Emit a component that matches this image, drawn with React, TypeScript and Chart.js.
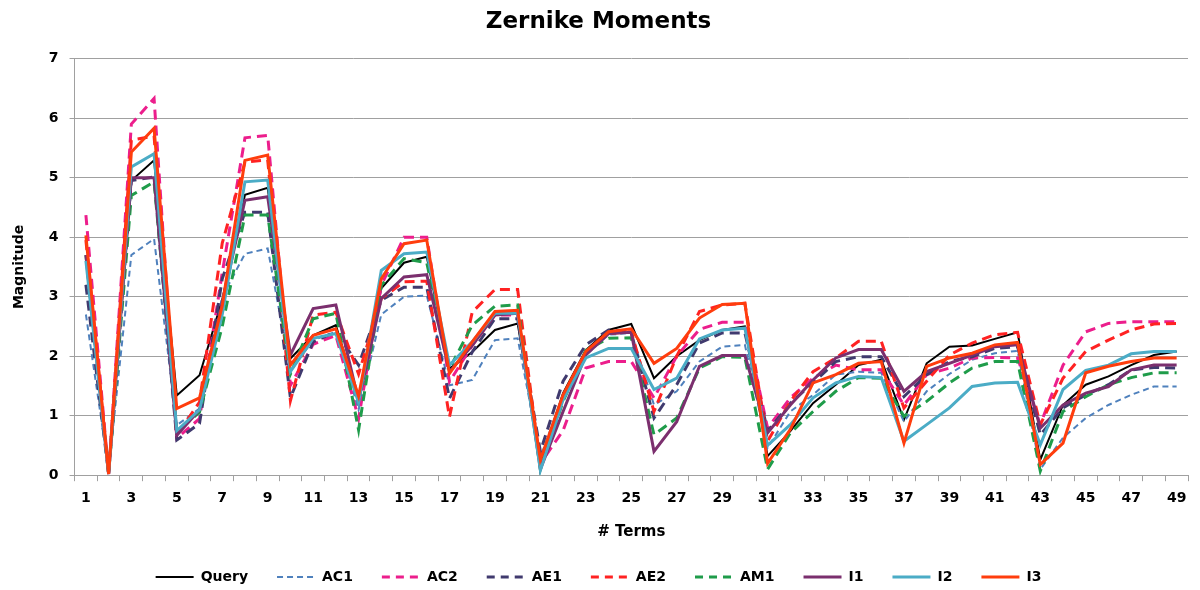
import React, { useEffect, useRef } from "react";
import { Chart, registerables } from "chart.js";

Chart.register(...registerables);

const terms: string[] = Array.from({ length: 49 }, (_, i) => String(i + 1));

const query = [3.7, 0.02, 4.95, 5.29, 1.34, 1.68, 2.95, 4.71, 4.83, 1.96, 2.35, 2.52, 1.25, 3.14, 3.57, 3.67, 1.79, 2.07, 2.44, 2.55, 0.23, 1.38, 2.1, 2.44, 2.54, 1.63, 2.0, 2.27, 2.44, 2.5, 0.32, 0.74, 1.21, 1.52, 1.85, 1.94, 0.93, 1.88, 2.16, 2.18, 2.29, 2.4, 0.26, 1.18, 1.52, 1.66, 1.85, 2.02, 2.08];
const ac1 = [2.7, 0.1, 3.7, 3.97, 0.84, 1.12, 3.0, 3.72, 3.81, 1.75, 2.27, 2.41, 1.1, 2.7, 3.0, 3.02, 1.51, 1.6, 2.27, 2.3, 0.3, 1.35, 2.02, 2.36, 2.39, 1.18, 1.41, 1.91, 2.16, 2.19, 0.46, 1.07, 1.35, 1.69, 1.74, 1.72, 0.9, 1.41, 1.7, 1.94, 2.05, 2.09, 0.1, 0.63, 0.96, 1.18, 1.35, 1.49, 1.49];
const ac2 = [4.37, 0.02, 5.9, 6.33, 0.62, 0.95, 3.4, 5.67, 5.71, 1.51, 2.2, 2.35, 0.95, 3.19, 4.0, 4.0, 1.57, 2.18, 2.69, 2.69, 0.2, 0.75, 1.8, 1.91, 1.91, 1.3, 2.0, 2.45, 2.57, 2.57, 0.79, 1.3, 1.63, 1.85, 1.77, 1.77, 1.18, 1.69, 1.8, 1.97, 1.98, 1.97, 0.85, 1.85, 2.41, 2.55, 2.58, 2.58, 2.58];
const ae1 = [3.2, 0.02, 4.95, 5.01, 0.59, 0.87, 3.3, 4.42, 4.42, 1.3, 2.24, 2.41, 1.85, 2.94, 3.16, 3.16, 1.29, 2.07, 2.63, 2.63, 0.4, 1.58, 2.19, 2.44, 2.39, 0.96, 1.52, 2.22, 2.39, 2.39, 0.74, 1.21, 1.55, 1.91, 1.99, 1.99, 1.32, 1.69, 1.91, 1.99, 2.13, 2.16, 0.68, 1.13, 1.35, 1.52, 1.77, 1.81, 1.8];
const ae2 = [3.95, 0.02, 5.63, 5.7, 0.67, 1.23, 3.9, 5.26, 5.3, 1.25, 2.69, 2.74, 1.7, 2.97, 3.25, 3.26, 0.98, 2.74, 3.12, 3.12, 0.15, 1.3, 2.08, 2.38, 2.41, 1.07, 2.0, 2.75, 2.86, 2.89, 0.57, 1.24, 1.74, 1.97, 2.25, 2.25, 1.13, 1.58, 2.02, 2.22, 2.36, 2.4, 0.85, 1.63, 2.08, 2.27, 2.44, 2.54, 2.55];
const am1 = [3.7, 0.02, 4.7, 4.93, 0.73, 1.06, 2.5, 4.37, 4.37, 1.7, 2.63, 2.72, 0.76, 3.19, 3.64, 3.57, 1.79, 2.52, 2.84, 2.86, 0.1, 1.24, 2.1, 2.3, 2.31, 0.68, 0.96, 1.8, 1.99, 1.98, 0.1, 0.71, 1.07, 1.41, 1.64, 1.63, 0.99, 1.24, 1.55, 1.8, 1.91, 1.91, 0.07, 1.07, 1.32, 1.52, 1.64, 1.72, 1.72];
const i1 = [3.7, 0.02, 5.0, 5.0, 0.67, 1.1, 2.9, 4.62, 4.68, 2.02, 2.8, 2.86, 1.25, 2.97, 3.33, 3.37, 1.74, 2.18, 2.69, 2.72, 0.1, 1.07, 2.02, 2.38, 2.4, 0.4, 0.9, 1.83, 2.01, 2.01, 0.71, 1.18, 1.6, 1.97, 2.11, 2.11, 1.41, 1.74, 1.88, 2.02, 2.16, 2.19, 0.79, 1.18, 1.38, 1.49, 1.77, 1.85, 1.85];
const i2 = [3.6, 0.02, 5.18, 5.4, 0.75, 1.1, 2.7, 4.93, 4.96, 1.74, 2.3, 2.38, 1.22, 3.44, 3.72, 3.75, 1.85, 2.24, 2.72, 2.72, 0.08, 1.27, 1.97, 2.13, 2.13, 1.44, 1.63, 2.29, 2.44, 2.47, 0.5, 0.85, 1.3, 1.55, 1.66, 1.64, 0.57, 0.85, 1.13, 1.49, 1.55, 1.56, 0.51, 1.44, 1.76, 1.85, 2.04, 2.08, 2.08];
const i3 = [4.03, 0.02, 5.43, 5.83, 1.12, 1.3, 2.85, 5.29, 5.38, 1.85, 2.35, 2.46, 1.33, 3.3, 3.89, 3.95, 1.71, 2.24, 2.75, 2.77, 0.26, 1.35, 2.08, 2.41, 2.46, 1.88, 2.13, 2.64, 2.87, 2.89, 0.2, 0.77, 1.55, 1.69, 1.88, 1.91, 0.54, 1.83, 1.97, 2.05, 2.19, 2.23, 0.18, 0.54, 1.72, 1.83, 1.91, 1.97, 1.97];

const FONT = "'DejaVu Sans', Verdana, sans-serif";

export default function App() {
  const ref = useRef<HTMLCanvasElement | null>(null);
  useEffect(() => {
    document.body.style.margin = "0";
    const ctx = ref.current!;
    const mk = (label: string, data: number[], color: string, width: number, dash: number[], order: number) => ({
      label,
      data,
      borderColor: color,
      backgroundColor: color,
      borderWidth: width,
      borderDash: dash,
      pointRadius: 0,
      pointHoverRadius: 0,
      tension: 0,
      fill: false,
      order,
    });
    const chart = new Chart(ctx, {
      type: "line",
      data: {
        labels: terms,
        datasets: [
          mk("Query", query, "#000000", 2, [], 8),
          mk("AC1", ac1, "#4f81bd", 2, [6, 4], 7),
          mk("AC2", ac2, "#ec1e8c", 3, [10, 6], 6),
          mk("AE1", ae1, "#403a6e", 3, [10, 6], 5),
          mk("AE2", ae2, "#ff2222", 3, [10, 6], 4),
          mk("AM1", am1, "#1f9c4a", 3, [10, 6], 3),
          mk("I1", i1, "#7b2f6e", 3, [], 2),
          mk("I2", i2, "#4bacc6", 3, [], 1),
          mk("I3", i3, "#ff3d0d", 3, [], 0),
        ],
      },
      options: {
        responsive: false,
        maintainAspectRatio: false,
        animation: false,
        layout: { padding: { left: 9, right: 12, top: 6, bottom: -4 } },
        plugins: {
          tooltip: { enabled: false },
          title: {
            display: true,
            text: "Zernike Moments",
            color: "#000",
            font: { family: FONT, size: 23, weight: "bold" },
            padding: { top: 2, bottom: 23 },
          },
          legend: {
            position: "bottom",
            labels: {
              usePointStyle: true,
              pointStyle: "line",
              pointStyleWidth: 38,
              boxWidth: 38,
              boxHeight: 10,
              padding: 29,
              color: "#000",
              font: { family: FONT, size: 14, weight: "bold" },
              generateLabels: (c: any) =>
                c.data.datasets.map((ds: any, i: number) => ({
                  text: ds.label,
                  fillStyle: ds.borderColor,
                  strokeStyle: ds.borderColor,
                  fontColor: "#000",
                  lineWidth: ds.label === "Query" || ds.label === "AC1" ? 2 : 3,
                  lineDash: ds.label === "AC1" ? [6, 4] : ds.borderDash.length ? [8, 6] : [],
                  lineCap: "butt",
                  pointStyle: "line",
                  hidden: false,
                  datasetIndex: i,
                })),
            },
          },
        },
        scales: {
          x: {
            type: "category",
            offset: true,
            grid: {
              display: true,
              offset: true,
              drawOnChartArea: false,
              drawTicks: true,
              tickLength: 6,
              color: "#a0a0a0",
            },
            border: { display: true, color: "#a0a0a0", width: 1 },
            ticks: {
              autoSkip: false,
              maxRotation: 0,
              minRotation: 0,
              color: "#000",
              padding: 9,
              font: { family: FONT, size: 14, weight: "bold" },
              callback: (_v: any, idx: number) => (idx % 2 === 0 ? terms[idx] : ""),
            },
            title: {
              display: true,
              text: "# Terms",
              color: "#000",
              font: { family: FONT, size: 15, weight: "bold" },
              padding: { top: 7, bottom: 0 },
            },
          },
          y: {
            min: 0,
            max: 7,
            grid: {
              color: "#a0a0a0",
              lineWidth: 1,
              tickLength: 5,
            },
            border: { display: true, color: "#a0a0a0", width: 1 },
            ticks: {
              stepSize: 1,
              color: "#000",
              padding: 11,
              font: { family: FONT, size: 14, weight: "bold" },
            },
            title: {
              display: true,
              text: "Magnitude",
              color: "#000",
              font: { family: FONT, size: 14, weight: "bold" },
              padding: { top: 2, bottom: 10 },
            },
          },
        },
      },
    } as any);
    return () => chart.destroy();
  }, []);
  return (
    <div style={{ width: 1200, height: 590 }}>
      <canvas ref={ref} width={1200} height={590} style={{ display: "block" }} />
    </div>
  );
}
